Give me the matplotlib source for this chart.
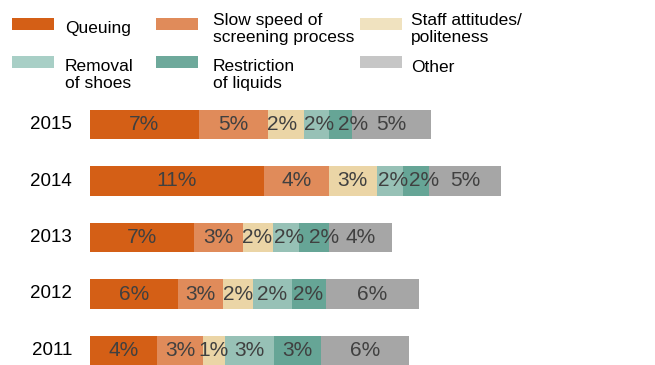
import numpy as np
import matplotlib
matplotlib.use('Agg')
import matplotlib.pyplot as plt
from matplotlib.patches import Rectangle

plt.rcParams['font.family'] = ['Liberation Sans', 'DejaVu Sans']

years = ['2015', '2014', '2013', '2012', '2011']
categories = ['Queuing', 'Slow speed of\nscreening process', 'Staff attitudes/\npoliteness',
              'Removal\nof shoes', 'Restriction\nof liquids', 'Other']
colors = ['#D45F16', '#E08B5A', '#EBD5A6', '#97C1B6', '#66A596', '#A6A6A6']
legend_colors = ['#D45F16', '#E08B5A', '#F0E2BF', '#A8CFC6', '#6EA99B', '#C6C6C6']

# values in percent, one list per category (rows follow years)
queuing     = [7.0, 11.2, 6.7, 5.7, 4.3]
slow_speed  = [4.5, 4.2, 3.2, 2.9, 3.0]
staff       = [2.3, 3.1, 1.9, 1.9, 1.4]
shoes       = [1.6, 1.7, 1.7, 2.5, 3.2]
liquids     = [1.5, 1.7, 1.9, 2.2, 3.0]
other       = [5.1, 4.6, 4.1, 6.0, 5.7]

labels = [['7%', '11%', '7%', '6%', '4%'],
          ['5%', '4%', '3%', '3%', '3%'],
          ['2%', '3%', '2%', '2%', '1%'],
          ['2%', '2%', '2%', '2%', '3%'],
          ['2%', '2%', '2%', '2%', '3%'],
          ['5%', '5%', '4%', '6%', '6%']]

series = [queuing, slow_speed, staff, shoes, liquids, other]

# small label nudges (pixels) where labels crowd each other
nudge = [[0, 0, 0, 0, 0],
         [0, 0, 0, 0, 0],
         [-4, 0, -1, 0, 0],
         [3, 3, 3, 0, 0],
         [13, 8, 10, 0, 0],
         [0, 0, 0, 0, 0]]

PX = 15.5  # pixels per percent
W, H = 655, 365
fig = plt.figure(figsize=(W / 100, H / 100), dpi=100)
ax = fig.add_axes([90 / W, 0, 550 / W, 1])
ax.set_xlim(0, 550 / PX)
ax.set_ylim((365 - 124.5) / 56.5, -124.5 / 56.5)
ax.axis('off')

y = np.arange(len(years))
left = np.zeros(len(years))
for vals, col, labs, nd in zip(series, colors, labels, nudge):
    vals = np.array(vals)
    ax.barh(y, vals, left=left, height=0.515, color=col, linewidth=0)
    for yi, l, v, t, n in zip(y, left, vals, labs, nd):
        ax.text(l + v / 2 + n / PX, yi, t, ha='center', va='center', fontsize=15, color='#404040')
    left += vals

for yi, yr in zip(y, years):
    ax.text(-18 / PX, yi, yr, ha='right', va='center', fontsize=13.5, color='black')

# legend drawn in figure pixels
patch_x = [12, 156, 360]
text_x = [65, 213, 411]
patch_y = [18, 56]
text_y = [29, 75]
for i, (cat, col) in enumerate(zip(categories, legend_colors)):
    r, c = divmod(i, 3)
    fig.patches.append(Rectangle((patch_x[c] / W, 1 - (patch_y[r] + 12) / H), 42 / W, 12 / H,
                                 transform=fig.transFigure, color=col, linewidth=0))
    ty = text_y[r]
    if cat == 'Other':
        ty = 67
    fig.text(text_x[c] / W, 1 - ty / H, cat, ha='left', va='center', fontsize=12.5,
             linespacing=1.15, color='black')

fig.savefig('out.png', dpi=100)
